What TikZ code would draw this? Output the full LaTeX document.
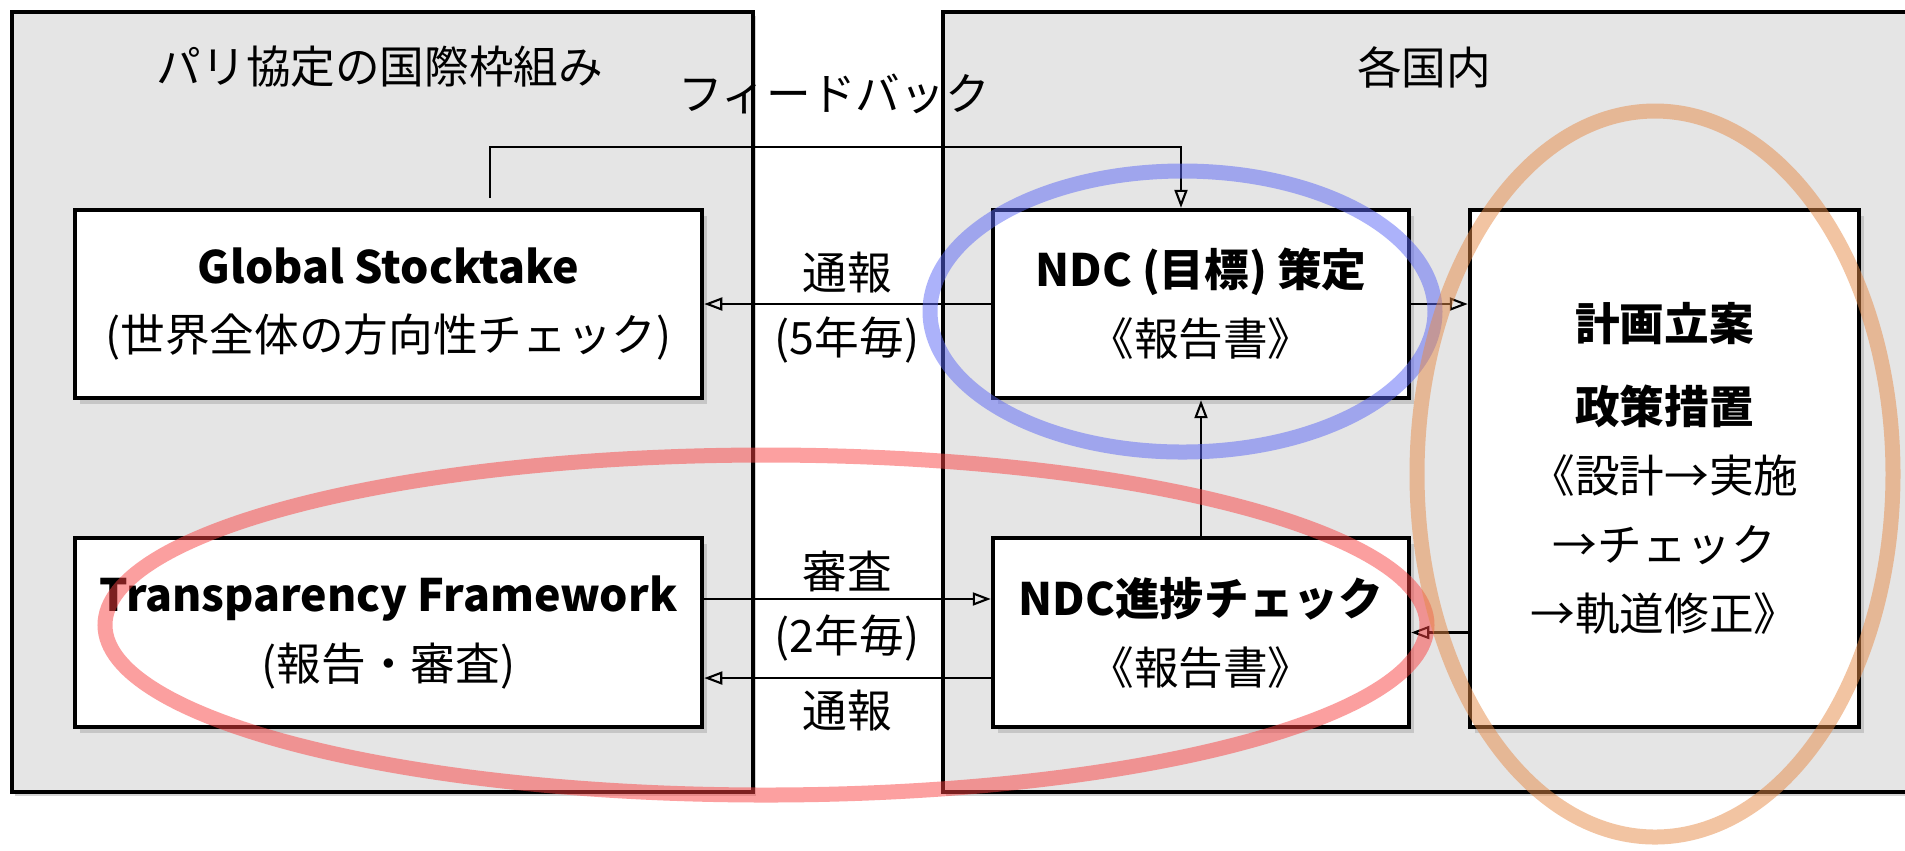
\documentclass[tikz,border=0pt]{standalone}
\usepackage{fontspec}
\setmainfont{Noto Sans CJK JP}
\usetikzlibrary{arrows.meta,shadows,calc}
\definecolor{ringblue}{RGB}{90,102,246}
\definecolor{ringred}{RGB}{249,65,65}
\definecolor{ringorange}{RGB}{230,138,70}
\tikzset{
	txt/.style={font=\fontsize{12.7pt}{19.6pt}\selectfont, align=center},
	panel/.style={draw, line width=1pt, fill=black!10, drop shadow={shadow xshift=0.03cm, shadow yshift=-0.04cm, opacity=0.35}},
	box/.style={txt, draw, line width=1.2pt, fill=white, inner sep=0pt, drop shadow={shadow xshift=0.05cm, shadow yshift=-0.06cm, opacity=0.3}},
	flow/.style={line width=0.6pt, -{Triangle[open, length=0.18cm, width=0.13cm]}},
	ring/.style={line width=0.15cm, draw opacity=0.5}
}
\begin{document}
\begin{tikzpicture}[x=0.01cm, y=-0.01cm]
	\useasboundingbox (0,0) rectangle (1905,850);
	% panels
	\draw[panel] (12,12) rectangle (753,792);
	\draw[panel] (943,12) rectangle (1930,792);
	\node[txt] (intl) at (380,67) {パリ協定の国際枠組み};
	\node[txt] (dom) at (1424,67) {各国内};
	\node[txt] (fbtext) at (834,94) {フィードバック};
	% boxes
	\node[box, minimum width=6.27cm, minimum height=1.88cm] (gst) at (388.5,304) {\textbf{Global Stocktake}\\(世界全体の方向性チェック)};
	\node[box, minimum width=4.16cm, minimum height=1.88cm] (ndc) at (1201,304) {\textbf{NDC (目標) 策定}\\《報告書》};
	\node[box, minimum width=6.27cm, minimum height=1.89cm] (tf) at (388.5,632.5) {\textbf{Transparency Framework}\\(報告・審査)};
	\node[box, minimum width=4.16cm, minimum height=1.89cm] (prog) at (1201,632.5) {\textbf{NDC進捗チェック}\\《報告書》};
	\node[box, minimum width=3.89cm, minimum height=5.17cm] (plan) at (1664.5,468.5) {\textbf{計画立案}\\[4pt]\textbf{政策措置}\\《設計→実施\\→チェック\\→軌道修正》};
	% connectors
	\coordinate (fbs) at (490,198);
	\draw[flow] (fbs) -- ++(0,-51) -| ([xshift=-0.2cm]ndc.north);
	\draw[flow] (ndc.west) -- (gst.east);
	\draw[flow] (ndc.east) -- (plan.west |- ndc.east);
	\draw[flow] (prog.north) -- (ndc.south);
	\draw[flow] ([yshift=0.335cm]tf.east) -- ([yshift=0.335cm]prog.west);
	\draw[flow] ([yshift=-0.455cm]prog.west) -- ([yshift=-0.455cm]tf.east);
	\draw[flow] (plan.west |- prog.east) -- (prog.east);
	\node[txt] (rep1) at (847,273) {通報};
	\node[txt] (per5) at (847,340) {(5年毎)};
	\node[txt] (rev) at (847,571) {審査};
	\node[txt] (per2) at (847,638) {(2年毎)};
	\node[txt] (rep2) at (847,711) {通報};
	% highlight rings
	\draw[ring, ringblue] (1182.5,311.5) ellipse (252.5 and 140.5);
	\draw[ring, ringred] (766,625) ellipse (661 and 170);
	\draw[ring, ringorange] (1655,474) ellipse (238 and 363);
\end{tikzpicture}
\end{document}
